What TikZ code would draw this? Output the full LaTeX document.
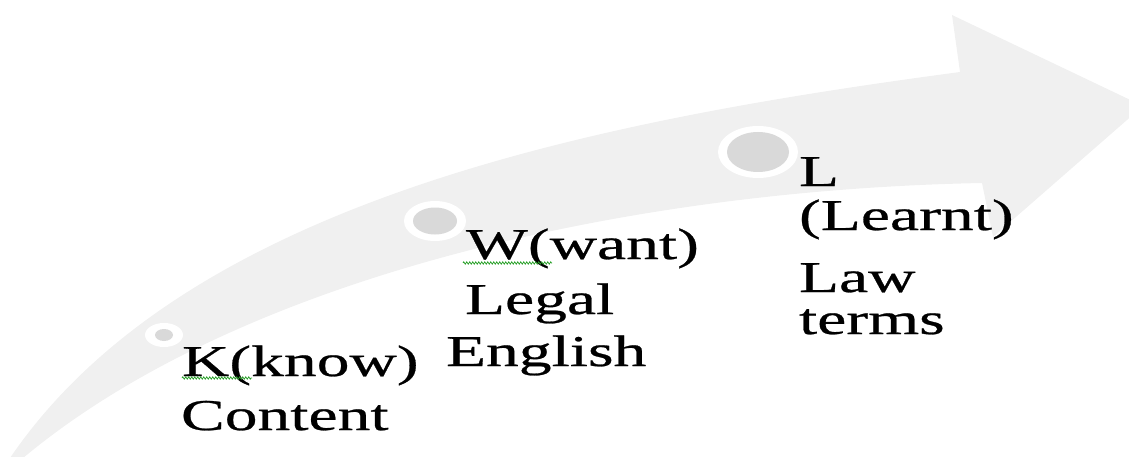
\documentclass[tikz,border=0pt]{standalone}
\usepackage{fontspec}
\usetikzlibrary{decorations.pathmorphing}
\newfontfamily\labelfont[FakeStretch=1.49,FakeBold=0.6]{Liberation Serif}
\definecolor{bandgray}{RGB}{240,240,240}
\definecolor{dotgray}{RGB}{217,217,217}
\definecolor{spellgreen}{RGB}{40,160,40}
\tikzset{
  band/.style={fill=bandgray},
  ring/.style={fill=white},
  dot/.style={fill=dotgray},
  label/.style={anchor=base west, inner sep=0pt, outer sep=0pt,
    font=\labelfont\fontsize{44}{45}\selectfont, text=black},
  squiggle/.style={draw=spellgreen, line width=0.8pt,
    decorate, decoration={zigzag, segment length=3pt, amplitude=1.1pt}}
}
\begin{document}
\begin{tikzpicture}[x=1pt, y=-1pt]
\useasboundingbox (0,0) rectangle (1129,457);
\clip (0,0) rectangle (1129,457);

% curved arrow body with its head
\fill[band] (6,464) .. controls (180,200) and (600,120) .. (960,72)
  -- (952,15) -- (1143,106) -- (993,237) -- (982,183)
  .. controls (620,190) and (230,280) .. (16,464) -- cycle;

% milestones along the arrow
\fill[ring] (164,335) ellipse [x radius=19pt, y radius=12pt];
\fill[dot]  (164,335) ellipse [x radius=9pt, y radius=6pt];
\fill[ring] (435,221) ellipse [x radius=31pt, y radius=20pt];
\fill[dot]  (435,221) ellipse [x radius=22pt, y radius=13.5pt];
\fill[ring] (758,152) ellipse [x radius=40pt, y radius=26pt];
\fill[dot]  (758,152) ellipse [x radius=31pt, y radius=20pt];

% labels
\node[label] (k1) at (182,376) {K(know)};
\node[label] (k2) at (181,430) {Content};
\node[label] (w1) at (466,259) {W(want)};
\node[label] (w2) at (465,314) {Legal};
\node[label] (w3) at (446,366) {English};
\node[label] (l1) at (799,186) {L};
\node[label] (l2) at (799,230) {(Learnt)};
\node[label] (l3) at (799,292) {Law};
\node[label] (l4) at (799,334) {terms};

% spell-check marks
\coordinate (ka) at (182,378);
\coordinate (kb) at (252,378);
\coordinate (wa) at (463,263);
\coordinate (wb) at (552,263);
\draw[squiggle] (ka) -- (kb);
\draw[squiggle] (wa) -- (wb);
\end{tikzpicture}
\end{document}
